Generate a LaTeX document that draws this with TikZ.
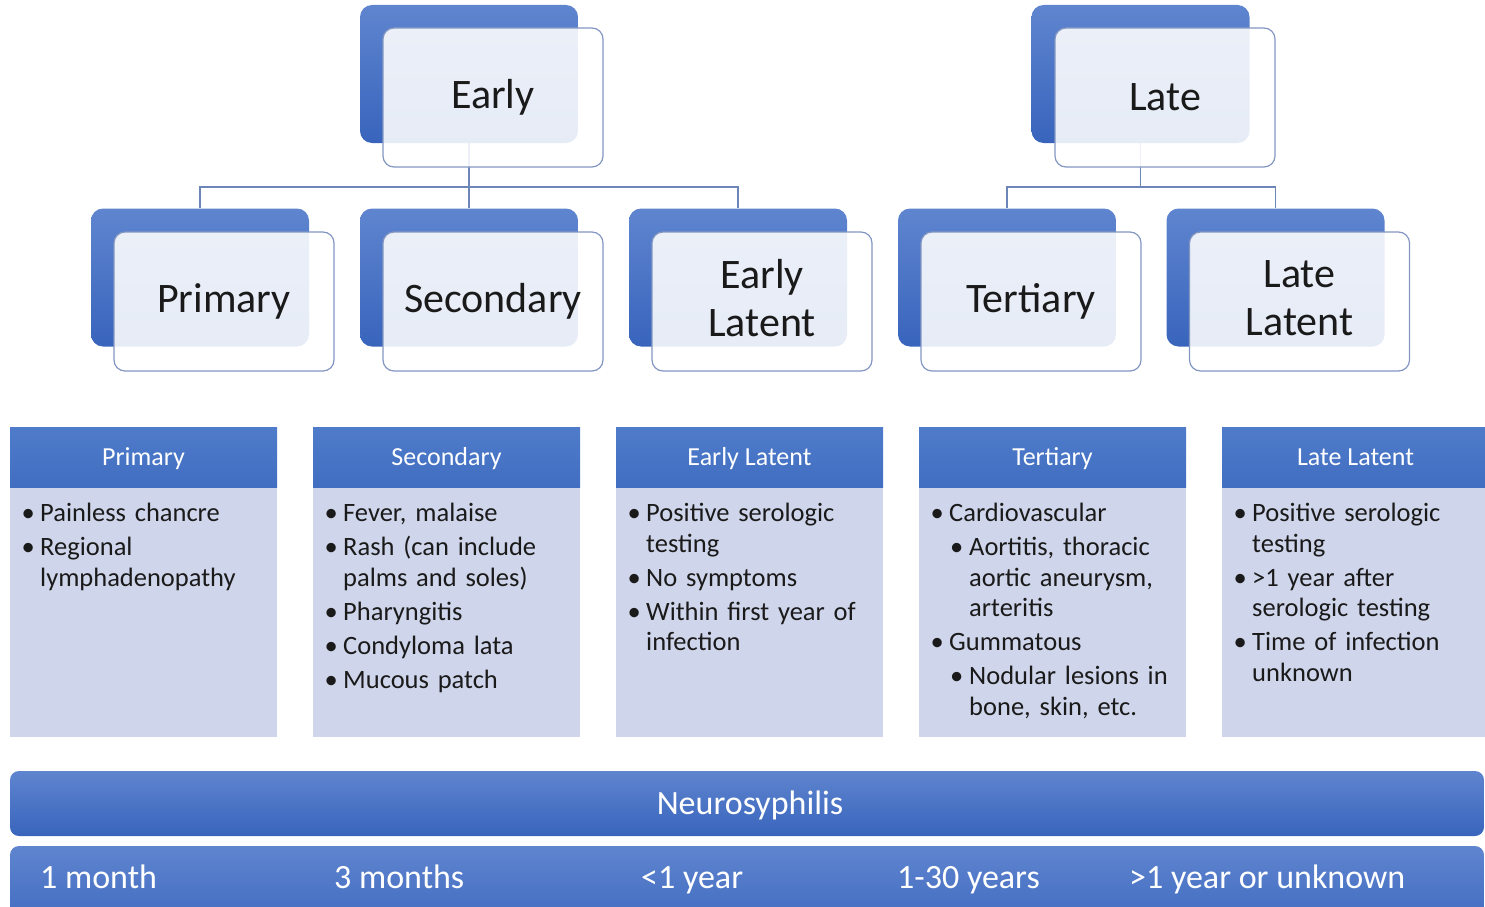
\documentclass[tikz,border=0pt]{standalone}
\usepackage{fontspec}
\setmainfont{Carlito}
\definecolor{blueTop}{HTML}{5F85CF}
\definecolor{blueBot}{HTML}{3864BC}
\definecolor{headTop}{HTML}{4F7BCA}
\definecolor{headBot}{HTML}{416EC1}
\definecolor{bodyfill}{HTML}{CFD5EA}
\definecolor{edge}{HTML}{8396C2}
\definecolor{linkline}{HTML}{6E85B8}
\definecolor{ink}{HTML}{1A1A1A}
% bullet list items with hanging indent
\newcommand\itm[1]{\par\hangindent=18.5pt\hangafter=1\noindent\strut\makebox[18.5pt][l]{\textbullet}#1}
\newcommand\subitm[1]{\par\hangindent=38.5pt\hangafter=1\noindent\strut\hspace*{19.5pt}\makebox[19pt][l]{\textbullet}#1}
\begin{document}
\begin{tikzpicture}[x=1pt,y=-1pt,
  backbox/.style={rounded corners=12pt, minimum width=218pt, minimum height=138pt,
    inner sep=0pt, top color=blueTop, bottom color=blueBot, draw=none},
  frontbox/.style={rounded corners=11pt, minimum width=220pt, minimum height=139pt,
    inner sep=0pt, fill=white, fill opacity=0.88, text opacity=1, draw=edge,
    line width=1.2pt, font=\fontsize{42}{48}\selectfont, align=center, text=ink},
  link/.style={draw=linkline, line width=1.5pt},
  headbox/.style={minimum width=267pt, minimum height=60pt, inner sep=0pt,
    top color=headTop, bottom color=headBot, draw=none},
  headtext/.style={text=white, font=\fontsize{26}{30}\selectfont, inner sep=0pt, anchor=base},
  bodybox/.style={fill=bodyfill, draw=none},
  bodytext/.style={anchor=north west, inner sep=0pt, text width=255pt, align=left,
    text=ink, font=\fontsize{26.5}{30.5}\selectfont\setlength{\parskip}{3.5pt}},
  bar/.style={rounded corners=9pt, top color=blueTop, bottom color=blueBot, draw=none},
  bartext/.style={text=white, font=\fontsize{34}{40}\selectfont, inner sep=0pt, anchor=base west}
]
\useasboundingbox (0,0) rectangle (1485,907);

% ---- hierarchy: back boxes ----
\node[backbox] (earlyB) at (469,74) {};
\node[backbox] (lateB) at (1140.5,74) {};
\node[backbox] (primB) at (200,277.5) {};
\node[backbox] (secB) at (469,277.5) {};
\node[backbox] (elatB) at (738,277.5) {};
\node[backbox] (terB) at (1007,277.5) {};
\node[backbox] (llatB) at (1275.5,277.5) {};

% ---- connectors ----
\draw[link] (earlyB.south) -- ++(0,44) coordinate (ej);
\draw[link] (primB.north) |- (ej) -| (elatB.north);
\draw[link] (ej) -- (secB.north);
\draw[link] (lateB.south) -- ++(0,44) coordinate (lj);
\draw[link] (terB.north) |- (lj) -| (llatB.north);

% ---- hierarchy: front boxes ----
\node[frontbox] (earlyF) at (493,97.5) {Early};
\node[frontbox] (lateF) at (1165,97.5) {Late};
\node[frontbox] (primF) at (224,301.5) {Primary};
\node[frontbox] (secF) at (493,301.5) {Secondary};
\node[frontbox] (elatF) at (762,301.5) {Early\\Latent\vphantom{y}};
\node[frontbox] (terF) at (1031,301.5) {Tertiary};
\node[frontbox] (llatF) at (1299.5,301.5) {Late\\Latent\vphantom{y}};

% ---- stage table ----
\foreach \nm/\x/\ttl in {c1/10/Primary, c2/313/Secondary, c3/616/Early Latent,
                          c4/919/Tertiary, c5/1222/Late Latent}{
  \fill[bodyfill] (\x,487) rectangle ++(267,250);
  \node[headbox] (\nm h) at (\x+133.5,457) {};
  \node[headtext] (\nm t) at (\x+133.5,465.5) {\ttl};
}

\node[bodytext] (b1) at (21.5,487.5) {%
  \itm{Painless chancre}
  \itm{Regional\newline lymphadenopathy}\par};
\node[bodytext] (b2) at (324.5,487.5) {%
  \itm{Fever, malaise}
  \itm{Rash (can include\newline palms and soles)}
  \itm{Pharyngitis}
  \itm{Condyloma lata}
  \itm{Mucous patch}\par};
\node[bodytext] (b3) at (627.5,487.5) {%
  \itm{Positive serologic\newline testing}
  \itm{No symptoms}
  \itm{Within first year of\newline infection}\par};
\node[bodytext] (b4) at (930.5,487.5) {%
  \itm{Cardiovascular}
  \subitm{Aortitis, thoracic\newline aortic aneurysm,\newline arteritis}
  \itm{Gummatous}
  \subitm{Nodular lesions in\newline bone, skin, etc.}\par};
\node[bodytext] (b5) at (1233.5,487.5) {%
  \itm{Positive serologic\newline testing}
  \itm{>1 year after\newline serologic testing}
  \itm{Time of infection\newline unknown}\par};

% ---- bottom bars ----
\node[bar, minimum width=1474pt, minimum height=65pt, inner sep=0pt] (neuro) at (747,803.5) {};
\node[text=white, font=\fontsize{34}{40}\selectfont, inner sep=0pt, anchor=base] (neurot) at (750,814) {Neurosyphilis};
\node[bar, minimum width=1474pt, minimum height=100pt, inner sep=0pt] (time) at (747,896) {};
\node[bartext] (t1) at (40,888.5) {1 month};
\node[bartext] (t2) at (334,888.5) {3 months};
\node[bartext] (t3) at (641,888.5) {<1 year};
\node[bartext] (t4) at (897,888.5) {1-30 years};
\node[bartext] (t5) at (1129,888.5) {>1 year or unknown};
\end{tikzpicture}
\end{document}
